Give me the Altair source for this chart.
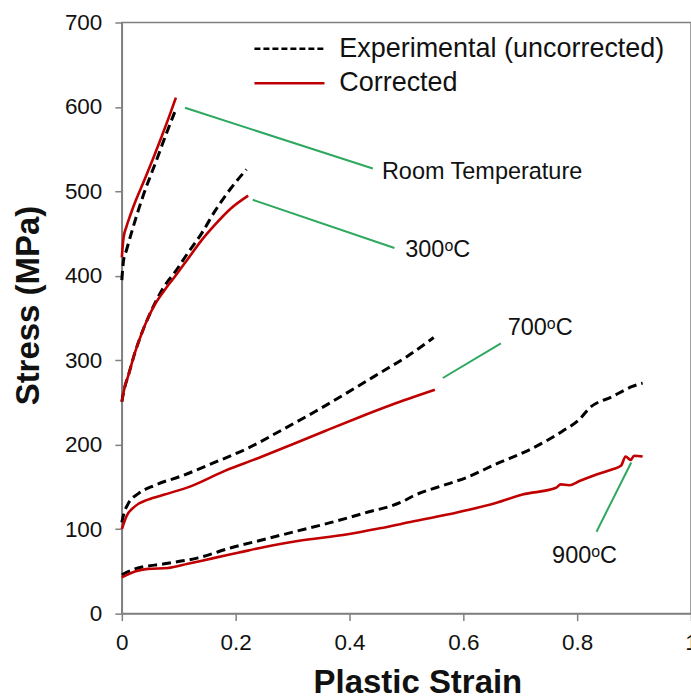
import altair as alt
import pandas as pd

# ---- Stress-strain curves (plastic strain, stress in MPa) ----
# Room temperature
rt_exp_x = [0, 0.003, 0.008, 0.02, 0.037, 0.061, 0.078, 0.093]
rt_exp_y = [395, 418, 430, 458, 494, 537, 568, 594]
rt_cor_x = [0, 0.003, 0.008, 0.015, 0.025, 0.04, 0.055, 0.07, 0.085, 0.095]
rt_cor_y = [422, 445, 458, 472, 490, 514, 539, 565, 592, 611]

# 300 C
t300_exp_x = [0, 0.005, 0.011, 0.023, 0.035, 0.046, 0.06, 0.075, 0.093, 0.116, 0.14, 0.163, 0.192, 0.219]
t300_exp_y = [251, 268, 281, 309, 332, 350, 370, 388, 404, 427, 450, 476, 504, 526]
t300_cor_x = [0, 0.005, 0.011, 0.023, 0.035, 0.046, 0.058, 0.075, 0.093, 0.116, 0.14, 0.163, 0.192, 0.222]
t300_cor_y = [251, 268, 281, 309, 332, 350, 366, 383, 399, 420, 442, 460, 480, 495]

# 700 C
t700_exp_x = [0, 0.003, 0.011, 0.029, 0.058, 0.105, 0.163, 0.222, 0.28, 0.339, 0.397, 0.456, 0.5, 0.548]
t700_exp_y = [108, 117, 130, 142, 152, 163, 179, 196, 217, 239, 262, 286, 304, 327]
t700_cor_x = [0, 0.002, 0.008, 0.023, 0.046, 0.075, 0.122, 0.181, 0.239, 0.298, 0.356, 0.415, 0.473, 0.55]
t700_cor_y = [100, 104, 115, 127, 135, 141, 151, 169, 184, 200, 216, 232, 247, 265]

# 900 C
t900_exp_x = [0, 0.023, 0.075, 0.134, 0.192, 0.251, 0.309, 0.368, 0.426, 0.494, 0.511, 0.57,
              0.605, 0.657, 0.716, 0.774, 0.804, 0.821, 0.862, 0.897, 0.915]
t900_exp_y = [46, 53, 59, 66, 78, 88, 98, 108, 119, 133, 139, 153,
              161, 177, 194, 216, 230, 243, 257, 269, 273]
t900_cor_x = [0, 0.023, 0.046, 0.081, 0.116, 0.163, 0.204, 0.251, 0.309, 0.397, 0.453, 0.511,
              0.57, 0.61, 0.657, 0.704, 0.763, 0.771, 0.786, 0.804, 0.827, 0.862, 0.877,
              0.885, 0.894, 0.9, 0.915]
t900_cor_y = [43, 50, 53, 54, 59, 66, 72, 79, 86, 94, 101, 109,
              117, 123, 131, 141, 149, 153, 152, 157, 163, 171, 175,
              186, 182, 187, 186]

# ---- Curve labels with leader lines ----
label_text = ["Room Temperature", "300ᵒC", "700ᵒC", "900ᵒC"]
label_x = [0.457, 0.498, 0.678, 0.756]
label_y = [523, 430, 338, 68]
leader_x = [0.111, 0.23, 0.564, 0.895]
leader_y = [599, 490, 279, 179]
leader_x2 = [0.441, 0.479, 0.666, 0.834]
leader_y2 = [527, 433, 320, 97]

# ---- Legend entries ----
legend_names = ["Experimental (uncorrected)", "Corrected"]
legend_y = [669, 628]
legend_x0, legend_x1, legend_tx = 0.233, 0.356, 0.382

FONT = "Liberation Sans"
RED = "#c00000"
GREEN = "#2ea85f"


def frame(xs, ys, curve):
    return pd.DataFrame({"strain": xs, "stress": ys, "curve": curve})


exp_df = pd.concat([
    frame(rt_exp_x, rt_exp_y, "RT"),
    frame(t300_exp_x, t300_exp_y, "300"),
    frame(t700_exp_x, t700_exp_y, "700"),
    frame(t900_exp_x, t900_exp_y, "900"),
])
cor_df = pd.concat([
    frame(rt_cor_x, rt_cor_y, "RT"),
    frame(t300_cor_x, t300_cor_y, "300"),
    frame(t700_cor_x, t700_cor_y, "700"),
    frame(t900_cor_x, t900_cor_y, "900"),
])

x_scale = alt.Scale(domain=[0, 1], nice=False, zero=False)
y_scale = alt.Scale(domain=[0, 700], nice=False)

x_axis = alt.Axis(
    values=[0, 0.2, 0.4, 0.6, 0.8, 1], format="~g", title="Plastic Strain",
    titleX=296, titleY=69, titleBaseline="middle", titleAlign="center",
    labelPadding=11, labelFlush=False,
)
y_axis = alt.Axis(
    values=[0, 100, 200, 300, 400, 500, 600, 700], title="Stress (MPa)",
    titleX=-93, titleY=283, titleAngle=-90, titleBaseline="middle", titleAlign="center",
    labelPadding=13, labelFlush=False,
)

x_enc = alt.X("strain:Q", scale=x_scale, axis=x_axis)
y_enc = alt.Y("stress:Q", scale=y_scale, axis=y_axis)

exp_lines = alt.Chart(exp_df).mark_line(
    color="black", strokeDash=[9, 5], strokeWidth=3, interpolate="monotone"
).encode(x=x_enc, y=y_enc, detail="curve:N")

cor_lines = alt.Chart(cor_df).mark_line(
    color=RED, strokeWidth=2.6, interpolate="monotone"
).encode(x="strain:Q", y="stress:Q", detail="curve:N")

leader_df = pd.DataFrame({"x": leader_x, "y": leader_y, "x2": leader_x2, "y2": leader_y2})
leaders = alt.Chart(leader_df).mark_rule(color=GREEN, strokeWidth=2).encode(
    x="x:Q", y="y:Q", x2="x2:Q", y2="y2:Q"
)

label_df = pd.DataFrame({"x": label_x, "y": label_y, "text": label_text})
labels = alt.Chart(label_df).mark_text(
    align="left", baseline="middle", font=FONT, fontSize=23.5, color="#111"
).encode(x="x:Q", y="y:Q", text="text:N")

legend_line_df = pd.DataFrame({
    "x": [legend_x0, legend_x1, legend_x0, legend_x1],
    "y": [legend_y[0], legend_y[0], legend_y[1], legend_y[1]],
    "entry": [legend_names[0], legend_names[0], legend_names[1], legend_names[1]],
})
legend_dash = alt.Chart(legend_line_df[legend_line_df.entry == legend_names[0]]).mark_line(
    color="black", strokeDash=[6, 3], strokeWidth=2.5
).encode(x="x:Q", y="y:Q")
legend_solid = alt.Chart(legend_line_df[legend_line_df.entry == legend_names[1]]).mark_line(
    color=RED, strokeWidth=2.6
).encode(x="x:Q", y="y:Q")

legend_text_df = pd.DataFrame({"x": [legend_tx, legend_tx], "y": legend_y, "text": legend_names})
legend_text = alt.Chart(legend_text_df).mark_text(
    align="left", baseline="middle", font=FONT, fontSize=27, color="#111"
).encode(x="x:Q", y="y:Q", text="text:N")

chart = alt.layer(
    exp_lines, cor_lines, leaders, labels, legend_dash, legend_solid, legend_text
).properties(
    width=570, height=592,
    autosize=alt.AutoSizeParams(type="none"),
    padding={"left": 122, "top": 22, "right": 0, "bottom": 86},
).configure_view(
    stroke="#808080", strokeWidth=1.5
).configure_axis(
    grid=False,
    domainColor="#808080", domainWidth=1.5,
    tickColor="#808080", tickWidth=1.5, tickSize=7,
    labelFont=FONT, labelFontSize=22.5, labelColor="#111",
    titleFont=FONT, titleFontSize=33, titleFontWeight="bold", titleColor="#111",
)

chart.save("out.html", embed_options={"renderer": "svg", "actions": False})
